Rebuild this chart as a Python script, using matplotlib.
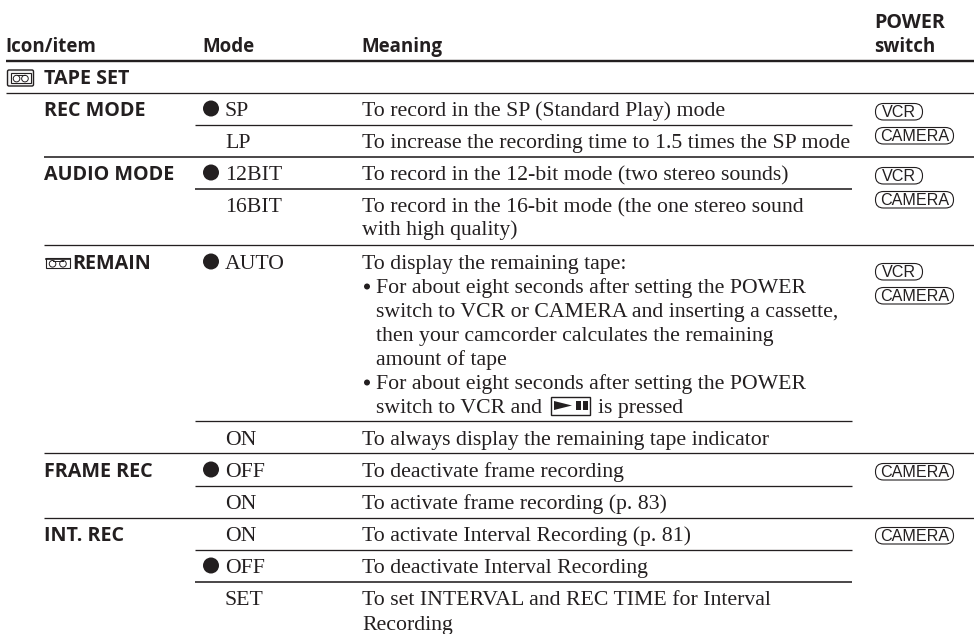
import matplotlib
matplotlib.use("Agg")
import matplotlib.pyplot as plt
from matplotlib.patches import FancyBboxPatch, Rectangle, Circle, Polygon

SERIF = "Liberation Serif"
SANS = "Open Sans"
INK = "#231f20"

header_items = ["Icon/item", "Mode", "Meaning"]
power_header = ["POWER", "switch"]
section_title = "TAPE SET"

# (label, baseline)
items = [("REC MODE", 116), ("AUDIO MODE", 180), ("REMAIN", 269),
         ("FRAME REC", 477), ("INT. REC", 541)]
# (mode, is default, baseline)
modes = [("SP", True, 116), ("LP", False, 148), ("12BIT", True, 180), ("16BIT", False, 212),
         ("AUTO", True, 269), ("ON", False, 445), ("OFF", True, 477), ("ON", False, 509),
         ("ON", False, 541), ("OFF", True, 573), ("SET", False, 605)]
# (text, baseline, bulleted/indented)
meanings = [
    ("To record in the SP (Standard Play) mode", 116, 0),
    ("To increase the recording time to 1.5 times the SP mode", 148, 0),
    ("To record in the 12-bit mode (two stereo sounds)", 180, 0),
    ("To record in the 16-bit mode (the one stereo sound", 212, 0),
    ("with high quality)", 235, 0),
    ("To display the remaining tape:", 269, 0),
    ("For about eight seconds after setting the POWER", 293, 2),
    ("switch to VCR or CAMERA and inserting a cassette,", 317, 1),
    ("then your camcorder calculates the remaining", 341, 1),
    ("amount of tape", 365, 1),
    ("For about eight seconds after setting the POWER", 389, 2),
    ("switch to VCR and", 413, 1),
    ("is pressed", 413, 3),
    ("To always display the remaining tape indicator", 445, 0),
    ("To deactivate frame recording", 477, 0),
    ("To activate frame recording (p. 83)", 509, 0),
    ("To activate Interval Recording (p. 81)", 541, 0),
    ("To deactivate Interval Recording", 573, 0),
    ("To set INTERVAL and REC TIME for Interval", 605, 0),
    ("Recording", 630, 0),
]
# (text, top)
buttons = [("VCR", 103), ("CAMERA", 127), ("VCR", 167), ("CAMERA", 191),
           ("VCR", 263), ("CAMERA", 287), ("CAMERA", 463), ("CAMERA", 527)]
# (y, x0, x1, px width)
rules = [(61, 6, 974, 2.4), (92.5, 6, 974, 1.3), (125, 195, 852, 1.3), (157, 44, 974, 1.6),
         (189, 195, 852, 1.6), (245, 44, 974, 1.3), (421, 195, 852, 1.3), (453, 44, 974, 1.3),
         (486, 195, 852, 1.3), (518, 44, 974, 1.3), (550, 195, 852, 1.3), (582, 195, 852, 1.6)]

fig = plt.figure(figsize=(9.74, 6.34), dpi=100)
ax = fig.add_axes([0, 0, 1, 1])
ax.set_xlim(0, 974)
ax.set_ylim(634, 0)
ax.axis("off")
PX = 0.72

def bold(x, y, s, size=14.2):
    ax.text(x, y, s, family=SANS, weight="bold", fontsize=size, color=INK, va="baseline", ha="left")

def serif(x, y, s, size=15.7):
    ax.text(x, y, s, family=SERIF, fontsize=size, color=INK, va="baseline", ha="left")

for x, s in zip([6, 203, 362], header_items):
    bold(x - 1, 52, s, 13.5)
bold(874, 28, power_header[0])
bold(874, 52, power_header[1], 13.5)
bold(44, 84, section_title)

for y, x0, x1, w in rules:
    ax.plot([x0, x1], [y, y], color=INK, lw=w * PX, solid_capstyle="butt")

for s, y in items:
    bold(72 if s == "REMAIN" else 44, y, s)

for s, d, y in modes:
    serif(225, y, s)
    if d:
        ax.add_patch(Circle((211, y - 7.5), 8, fc=INK, ec="none"))

for s, y, k in meanings:
    x = {0: 362, 1: 376, 2: 376, 3: 598}[k]
    serif(x, y, s)
    if k == 2:
        ax.add_patch(Circle((367, y - 6.5), 3, fc=INK, ec="none"))

for s, top in buttons:
    w = 48 if s == "VCR" else 79
    ax.add_patch(FancyBboxPatch((875.5, top + 0.5), w - 1, 16.5, boxstyle="round,pad=0,rounding_size=8",
                                fc="white", ec=INK, lw=0.8))
    ax.text(875 + w / 2, top + 14, s, family="Liberation Sans", fontsize=11.6, color=INK, ha="center", va="baseline")

def tape(x, y, w, h, cr, gap):
    ax.add_patch(Rectangle((x, y), w, h, fc="white", ec=INK, lw=0.8))
    cy = y + h * 0.58
    cx0 = x + w / 2 - gap
    cx1 = x + w / 2 + gap
    for cx in (cx0, cx1):
        ax.add_patch(Circle((cx, cy), cr, fc="none", ec=INK, lw=0.7))
    ax.plot([cx0, cx1], [cy - cr, cy - cr], color=INK, lw=0.7)

ax.add_patch(FancyBboxPatch((7.5, 70), 26, 16, boxstyle="round,pad=0,rounding_size=1.5", fc="#f4f4f4", ec=INK, lw=1.0))
tape(10.5, 72.5, 20.5, 10.5, 3.3, 4.2)
tape(45.5, 258, 24.5, 10, 3.3, 5.2)
ax.plot([45.5, 70], [258.5, 258.5], color=INK, lw=1.2)

ax.add_patch(Rectangle((550.5, 396.5), 39, 18, fc="white", ec=INK, lw=1.0))
ax.add_patch(Polygon([(554, 401), (554, 410), (572, 405.5)], fc=INK, ec="none"))
ax.add_patch(Rectangle((576, 401), 4.5, 9, fc=INK, ec="none"))
ax.add_patch(Rectangle((583, 401), 4.5, 9, fc=INK, ec="none"))

fig.savefig("out.png", dpi=100)
